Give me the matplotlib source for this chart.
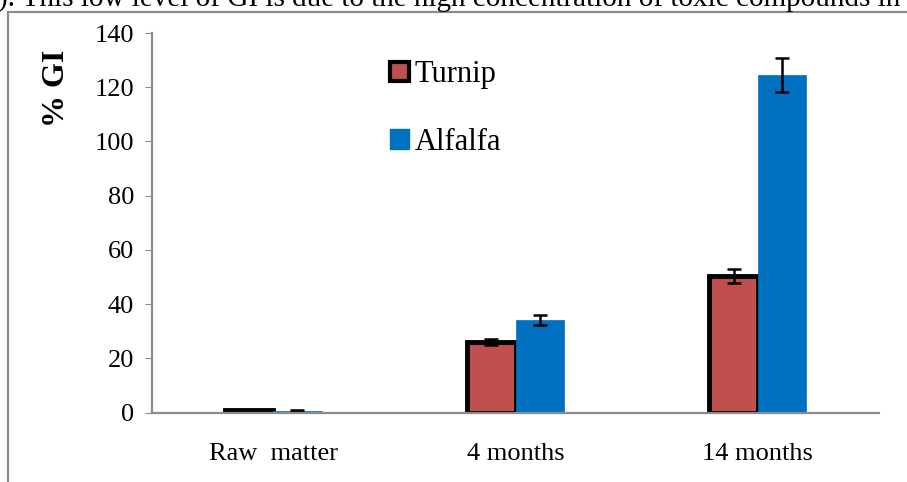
"""GI bar chart: turnip vs alfalfa across composting stages."""

import matplotlib

matplotlib.use("Agg")
import matplotlib.pyplot as plt
import numpy as np
from matplotlib.patches import Patch, Rectangle

categories = ["Raw  matter", "4 months", "14 months"]
turnip = [0.8, 26.0, 50.2]
turnip_err = [0.3, 1.0, 2.6]
alfalfa = [0.6, 34.2, 124.4]
alfalfa_err = [0.3, 1.8, 6.2]
y_ticks = [0, 20, 40, 60, 80, 100, 120, 140]

W, H = 907, 482
DPI = 100
plt.rcParams["font.family"] = ["Liberation Serif", "DejaVu Serif"]

fig = plt.figure(figsize=(W / DPI, H / DPI), dpi=DPI)


def px(x0, y0, x1, y1):
    # pixel box (top-left origin) -> figure fraction rect
    return [x0 / W, 1 - y1 / H, (x1 - x0) / W, (y1 - y0) / H]


# document text cut off above the chart frame
fig.text(-0.002, 1 - 7 / H,
         "). This low level of GI is due to the high concentration of toxic compounds in",
         fontsize=21, va="baseline", ha="left", color="black")

# outer chart frame (runs off the right and bottom edges)
fig.add_artist(Rectangle((8 / W, -0.1), 1.2, 1 - 12 / H + 0.1,
                         transform=fig.transFigure, fill=False,
                         edgecolor="#8c8c8c", linewidth=1.6))

ax = fig.add_axes(px(152, 33, 879, 412.5))
x = np.arange(len(categories))
width = 0.2
err_kw = dict(ecolor="black", elinewidth=1.8, capsize=5, capthick=1.8)

ax.bar(x - width / 2, turnip, width, yerr=turnip_err, color="#c0504d",
       edgecolor="black", linewidth=3.5, error_kw=err_kw, zorder=2)
ax.bar(x + width / 2, alfalfa, width, yerr=alfalfa_err, color="#0070c0",
       edgecolor="#0070c0", linewidth=0.5, error_kw=err_kw, zorder=2)

ax.set_xlim(-0.5, 2.5)
ax.set_ylim(0, 140)
ax.set_yticks(y_ticks)
ax.set_xticks(x, categories)
ax.tick_params(axis="y", labelsize=19, length=5, color="#8c8c8c", pad=8)
ax.tick_params(axis="x", labelsize=19, length=0, pad=22)
for side in ("top", "right"):
    ax.spines[side].set_visible(False)
for side in ("left", "bottom"):
    ax.spines[side].set_color("#8c8c8c")
    ax.spines[side].set_linewidth(1.6)

fig.text(56 / W, 1 - 88 / H, "% GI", rotation=90, fontsize=23,
         fontweight="bold", ha="center", va="center")

handles = [
    Patch(facecolor="#c0504d", edgecolor="black", linewidth=3),
    Patch(facecolor="#0070c0", edgecolor="#0070c0"),
]
ax.legend(handles, ["Turnip", "Alfalfa"], loc="upper left",
          bbox_to_anchor=(0.29, 1.0), frameon=False, fontsize=22,
          handlelength=0.6, handleheight=0.6, handletextpad=0.2,
          labelspacing=1.25)

fig.savefig("out.png", dpi=DPI)
